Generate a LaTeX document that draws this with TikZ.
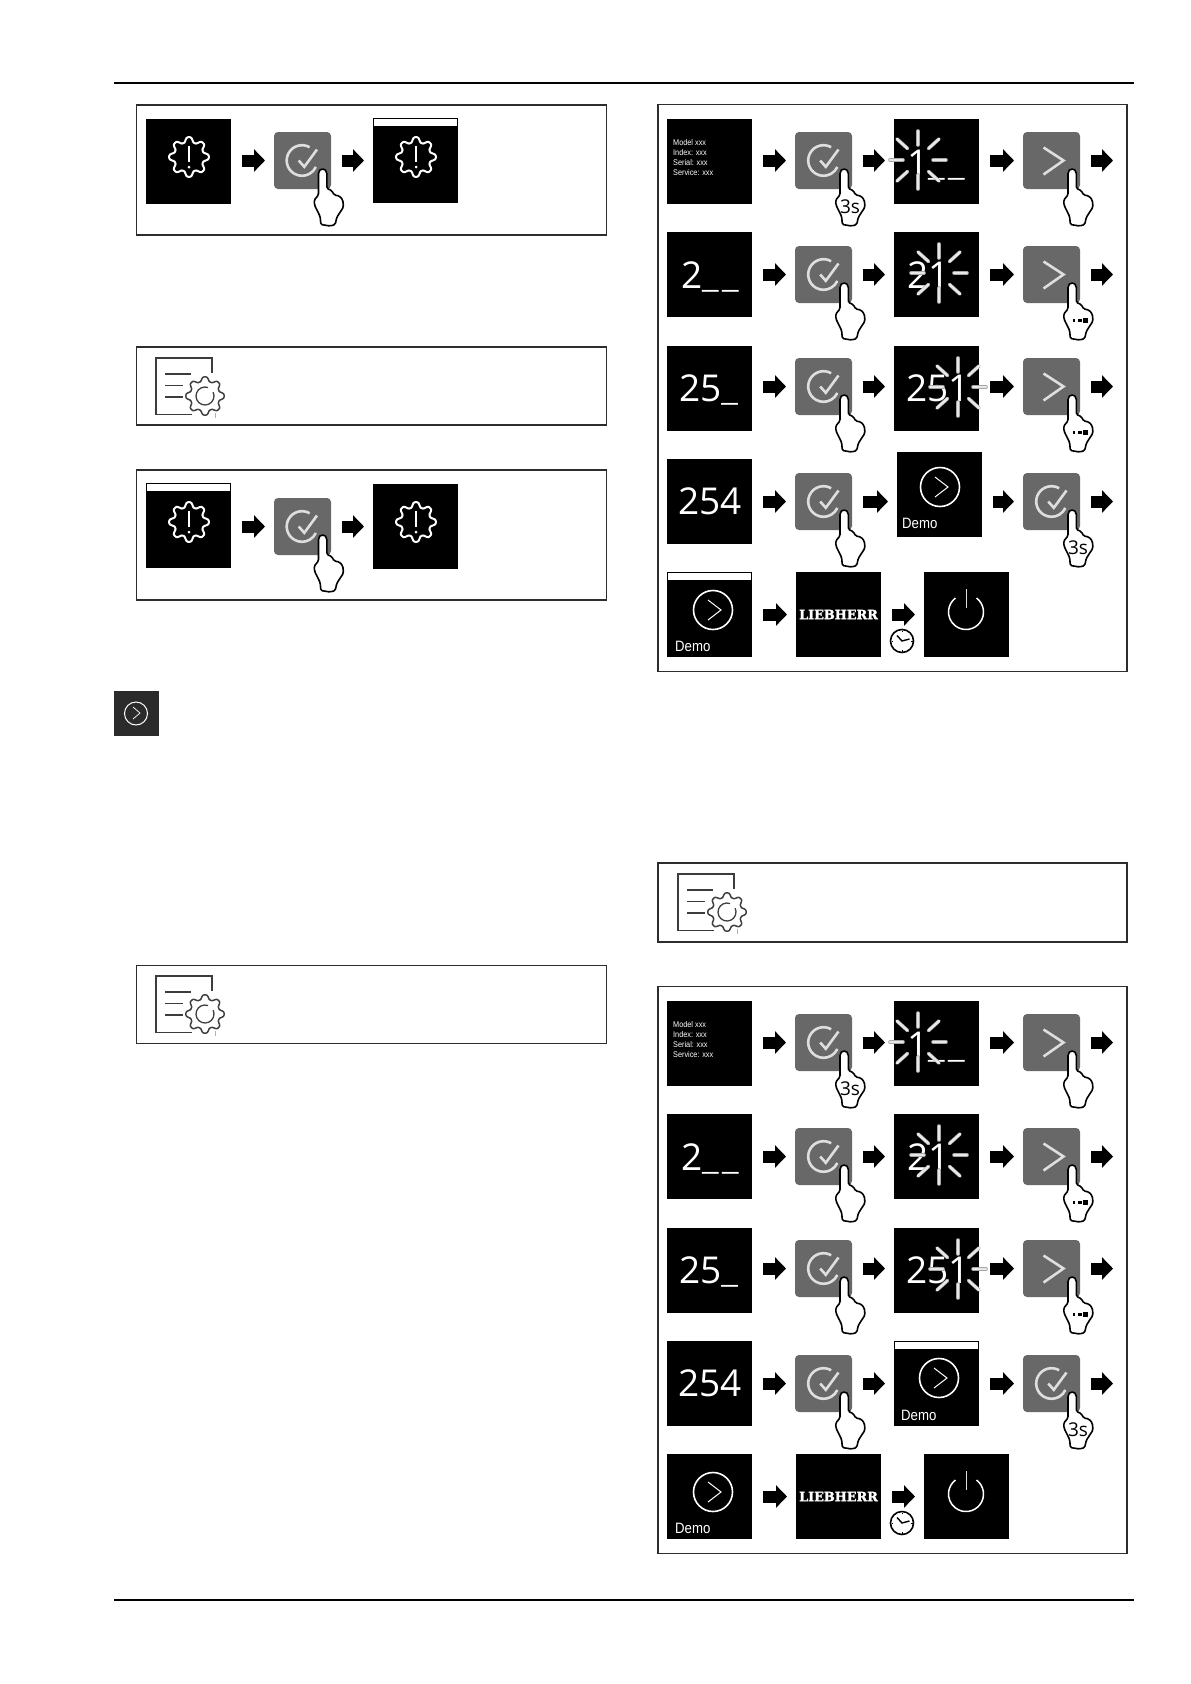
\documentclass[tikz,border=0pt]{standalone}
\usepackage{fontspec}
\setmainfont{Liberation Sans}
\newfontfamily\narrowfont[FakeStretch=0.88]{Liberation Sans}
\newfontfamily\digitfont{Open Sans}
\newfontfamily\logofont[BoldFeatures={FakeBold=2}]{DejaVu Serif}
\usetikzlibrary{arrows.meta}
\definecolor{keycolor}{RGB}{104, 104, 104}
\definecolor{iconcolor}{RGB}{222, 222, 222}
\definecolor{framecolor}{RGB}{45, 45, 45}
\definecolor{doccolor}{RGB}{60, 60, 60}
\newcommand{\uscore}{\raisebox{2pt}{\normalfont\fontsize{29}{29}\selectfont\_}\kern4pt}

\tikzset{
    framebox/.style={
        draw=framecolor,
        line width=1.1pt,
        anchor=north west,
        inner sep=0pt,
        outer sep=0pt
    },
    panel/.style={
        fill=black,
        minimum size=85pt,
        inner sep=0pt,
        outer sep=0pt,
        anchor=north west
    },
    topbar/.style={
        fill=white,
        minimum width=82.6pt,
        minimum height=7pt,
        inner sep=0pt,
        outer sep=0pt,
        anchor=north,
        yshift=-1.2pt
    },
    keybox/.style={
        fill=keycolor,
        rounded corners=4pt,
        minimum size=57pt,
        inner sep=0pt,
        outer sep=0pt,
        anchor=north west
    },
    flowarrow/.style={
        -{Triangle[length=11pt,width=22pt]},
        line width=12pt,
        shorten <=11pt,
        shorten >=9pt,
        color=black
    },
    digits/.style={
        text=white,
        font=\digitfont\fontsize{37}{37}\selectfont,
        inner sep=0pt,
        anchor=base west
    },
    infotext/.style={
        text=white,
        align=left,
        font=\narrowfont\fontsize{8.3}{10.2}\selectfont,
        inner sep=0pt,
        anchor=north west
    },
    demotext/.style={
        text=white,
        font=\narrowfont\fontsize{15}{15}\selectfont,
        inner sep=0pt,
        anchor=base west
    },
    logotext/.style={
        text=white,
        font=\logofont\bfseries\fontsize{12.8}{12.8}\selectfont,
        inner sep=0pt
    },
    holdtext/.style={
        text=black,
        font=\digitfont\fontsize{19}{19}\selectfont,
        inner sep=0pt
    },
    handline/.style={
        draw=black,
        fill=white,
        line width=1.6pt,
        line join=round
    },
    rayline/.style={
        draw=gray!70,
        line width=0.6pt,
        double=iconcolor!70,
        double distance=2.4pt,
        line cap=round
    },
    pics/presshand/.style={code={
        \path[handline, rounded corners=1.5pt] (-4,6) .. controls (-4,-1.5) and (4.3,-1.5) .. (4.3,6)
            -- (4.3,19.3) -- (9.3,21.7) -- (11.7,26) -- (17,27) -- (20.3,31) -- (21,38)
            -- (14.3,48.3) -- (12.7,55.5) -- (7.7,57) -- (-1.7,55.5) -- (-2.3,47.7)
            -- (-8,36) -- (-8.3,31) -- (-4,26) -- cycle;
    }},
    pics/checkicon/.style={code={
        \draw[iconcolor, line width=2.6pt] (0,0) ++(-60:15.3) arc[start angle=-60, end angle=-335, radius=15.3];
        \draw[iconcolor, line width=2.6pt] (-3.3,0) -- (2.3,6.3) -- (15,-11);
    }},
    pics/nexticon/.style={code={
        \draw[iconcolor, line width=2.6pt] (-8,-13) -- (12,0) -- (-8,14);
    }},
    pics/checkpress/.style={code={
        \pic at (0,0) {checkicon};
        \pic at (20.5,8.5) {presshand};
    }},
    pics/checkhold/.style={code={
        \pic at (0,0) {checkicon};
        \pic at (20.5,8.5) {presshand};
        \node[holdtext] (-hold) at (26.5,46.5) {3s};
    }},
    pics/nextpress/.style={code={
        \pic at (0,0) {nexticon};
        \pic at (20.5,8.5) {presshand};
    }},
    pics/nextrepeat/.style={code={
        \pic at (0,0) {nexticon};
        \pic at (20.5,8.5) {presshand};
        \fill[black] (21,44.5) rectangle (23.7,47);
        \fill[black] (26.5,44) rectangle (30,47.5);
        \fill[black] (31,43) rectangle (36.5,48);
    }},
    pics/alertgear/.style={code={
        \draw[white, line width=2pt] plot[domain=0:360, samples=145]
            ({(17.4+2.4*cos(8*\x)*(1.5-0.5*cos(8*\x)*cos(8*\x)))*cos(\x)},
             {(17.4+2.4*cos(8*\x)*(1.5-0.5*cos(8*\x)*cos(8*\x)))*sin(\x)}) -- cycle;
        \draw[white, line width=2.2pt] (0,-11) -- (0,5);
        \fill[white] (0,10) circle (1.5);
    }},
    pics/nextring/.style={code={
        \draw[white, line width=1.6pt] (0,0) circle (19.5);
        \draw[white, line width=1pt] (-5,-10) -- (8,0) -- (-5,10);
    }},
    pics/blinkrays/.style={code={
        \draw[rayline] (0,-29) -- (0,-15);
        \draw[rayline] (0,15) -- (0,29);
        \draw[rayline] (-28,0) -- (-15,0);
        \draw[rayline] (15,0) -- (28,0);
        \draw[rayline] (-21,-21) -- (-10.5,-11.5);
        \draw[rayline] (21,-21) -- (10.5,-11.5);
        \draw[rayline] (-21,21) -- (-10.5,11.5);
        \draw[rayline] (21,21) -- (10.5,11.5);
    }},
    pics/powericon/.style={code={
        \draw[white, line width=1.5pt] (-53:17.5) arc[start angle=-53, end angle=233, radius=17.5];
        \draw[iconcolor, line width=1pt] (0,-23) -- (0,-4);
    }},
    pics/timer/.style={code={
        \draw[black, fill=white, line width=1.6pt] (0,0) circle (11.5);
        \draw[black, line width=1.4pt] (-5,-5.5) -- (0,0) -- (7.5,-2);
        \draw[black, line width=1pt] (0,-10.5) -- (0,-9);
        \draw[black, line width=1pt] (0,10.5) -- (0,9);
        \draw[black, line width=1pt] (-10.5,0) -- (-9,0);
        \draw[black, line width=1pt] (10.5,0) -- (9,0);
    }},
    pics/settingsdoc/.style={code={
        \draw[doccolor, line width=1.4pt] (36,56.5) -- (0,56.5) -- (0,0) -- (56,0) -- (56,15);
        \draw[doccolor, line width=1.3pt] (9,16) -- (35,16);
        \draw[doccolor, line width=1.3pt] (9,27.5) -- (27,27.5);
        \draw[doccolor, line width=1.3pt] (9,39) -- (27,39);
        \draw[black!75, line width=1.5pt] plot[domain=0:360, samples=145]
            ({(17+2.1*cos(8*\x)*(1.5-0.5*cos(8*\x)*cos(8*\x)))*cos(\x)+49},
             {(17+2.1*cos(8*\x)*(1.5-0.5*cos(8*\x)*cos(8*\x)))*sin(\x)+38}) -- cycle;
        \draw[black!75, line width=1.3pt] (49,38) ++(-70:9) arc[start angle=-70, end angle=-385, radius=9];
        \draw[gray!60, line width=0.8pt] (59,55) -- (59,60);
    }}
}

\begin{document}
\begin{tikzpicture}[x=1pt, y=-1pt]
\useasboundingbox (0,0) rectangle (1191,1684);

% Page rules
\draw[black, line width=2.6pt] (114,83) -- (1134,83);
\draw[black, line width=2.6pt] (114,1600) -- (1134,1600);

% ==================== BOX A ====================
\node[framebox, minimum width=470pt, minimum height=130pt] (boxa) at (136.5,105) {};
\node[panel] (aalert) at (146,119) {};
\pic at (189,157) {alertgear};
\node[keybox] (akey) at (274,132) {};
\pic at ([xshift=-0.5pt]akey.center) {checkpress};
\node[panel] (aresult) at (373,118) {};
\node[topbar] (aresultbar) at (aresult.north) {};
\pic at (416,157) {alertgear};
\draw[flowarrow] (akey.west -| aalert.east) -- (akey.west);
\draw[flowarrow] (akey.east) -- (akey.east -| aresult.west);

% ==================== BOX B ====================
\node[framebox, minimum width=470pt, minimum height=78pt] (boxb) at (136.5,347) {};
\pic at (156,358) {settingsdoc};

% ==================== BOX C ====================
\node[framebox, minimum width=470pt, minimum height=130pt] (boxc) at (136.5,470) {};
\node[panel] (calert) at (146,483) {};
\node[topbar] (calertbar) at (calert.north) {};
\pic at (189,522) {alertgear};
\node[keybox] (ckey) at (274,498) {};
\pic at ([xshift=-0.5pt]ckey.center) {checkpress};
\node[panel] (cresult) at (373,484) {};
\pic at (416,522) {alertgear};
\draw[flowarrow] (ckey.west -| calert.east) -- (ckey.west);
\draw[flowarrow] (ckey.east) -- (ckey.east -| cresult.west);

% ==================== MARGIN ICON ====================
\node[fill=black!83, minimum size=45pt, inner sep=0pt, outer sep=0pt, anchor=north west] (marginkey) at (113.5,691) {};
\draw[white, line width=1pt] (marginkey.center) circle (11.5);
\draw[white, line width=0.7pt] (133,707) -- (140,713) -- (133,719);

% ==================== BOX D ====================
\node[framebox, minimum width=469pt, minimum height=79pt] (boxd) at (658,863) {};
\pic at (678,874) {settingsdoc};

% ==================== BOX E ====================
\node[framebox, minimum width=470pt, minimum height=78pt] (boxe) at (136.5,965.5) {};
\pic at (156,976) {settingsdoc};

% ==================== UPPER FLOW ====================
\node[framebox, minimum width=469pt, minimum height=567pt] (boxup) at (658,104.5) {};

% row 1
\node[panel] (upinfo) at (667,119) {};
\node[infotext] (upinfotext) at (673,139) {Model xxx\\Index: xxx\\Serial: xxx\\Service: xxx};
\node[keybox] (upkeya) at (795,132) {};
\pic at (upkeya.center) {checkhold};
\node[panel] (upblinka) at (894,119) {};
\node[digits] (upblinkatext) at (907,176) {1\uscore\uscore};
\pic at (918,160) {blinkrays};
\node[keybox] (upkeyb) at (1023,132) {};
\pic at (upkeyb.center) {nextpress};
\coordinate (upenda) at (1122,160.5);
\draw[flowarrow] (upkeya.west -| upinfo.east) -- (upkeya.west);
\draw[flowarrow] (upkeya.east) -- (upkeya.east -| upblinka.west);
\draw[flowarrow] (upkeyb.west -| upblinka.east) -- (upkeyb.west);
\draw[flowarrow] (upkeyb.east) -- (upenda);

% row 2
\node[panel] (uptypeb) at (667,232) {};
\node[digits] (uptypebtext) at (681,288) {2\uscore\uscore};
\node[keybox] (upkeyc) at (795,246) {};
\pic at (upkeyc.center) {checkpress};
\node[panel] (upblinkb) at (894,232) {};
\node[digits] (upblinkbtext) at (907,288) {21};
\pic at (939,273) {blinkrays};
\node[keybox] (upkeyd) at (1023,246) {};
\pic at (upkeyd.center) {nextrepeat};
\coordinate (upendb) at (1122,274.5);
\draw[flowarrow] (upkeyc.west -| uptypeb.east) -- (upkeyc.west);
\draw[flowarrow] (upkeyc.east) -- (upkeyc.east -| upblinkb.west);
\draw[flowarrow] (upkeyd.west -| upblinkb.east) -- (upkeyd.west);
\draw[flowarrow] (upkeyd.east) -- (upendb);

% row 3
\node[panel] (uptypec) at (667,346) {};
\node[digits] (uptypectext) at (679,401) {25\uscore};
\node[keybox] (upkeye) at (795,358) {};
\pic at (upkeye.center) {checkpress};
\node[panel] (upblinkc) at (894,346) {};
\node[digits] (upblinkctext) at (906,401) {251};
\pic at (958,387) {blinkrays};
\node[keybox] (upkeyf) at (1023,358) {};
\pic at (upkeyf.center) {nextrepeat};
\coordinate (upendc) at (1122,386.5);
\draw[flowarrow] (upkeye.west -| uptypec.east) -- (upkeye.west);
\draw[flowarrow] (upkeye.east) -- (upkeye.east -| upblinkc.west);
\draw[flowarrow] (upkeyf.west -| upblinkc.east) -- (upkeyf.west);
\draw[flowarrow] (upkeyf.east) -- (upendc);

% row 4
\node[panel] (uptyped) at (667,459) {};
\node[digits] (uptypedtext) at (678,514) {254};
\node[keybox] (upkeyg) at (795,473) {};
\pic at (upkeyg.center) {checkpress};
\node[panel] (updemo) at (897,452) {};
\pic at (940,487) {nextring};
\node[demotext] (updemotext) at (902,528) {Demo};
\node[keybox] (upkeyh) at (1023,473) {};
\pic at (upkeyh.center) {checkhold};
\coordinate (upendd) at (1122,501.5);
\draw[flowarrow] (upkeyg.west -| uptyped.east) -- (upkeyg.west);
\draw[flowarrow] (upkeyg.east) -- (upkeyg.east -| updemo.west);
\draw[flowarrow] (upkeyh.west -| updemo.east) -- (upkeyh.west);
\draw[flowarrow] (upkeyh.east) -- (upendd);

% row 5
\node[panel] (upstart) at (667,572) {};
\node[topbar] (upstartbar) at (upstart.north) {};
\pic at (713,610) {nextring};
\node[demotext] (upstarttext) at (675,651) {Demo};
\node[panel] (uplogo) at (796,572) {};
\node[logotext] (uplogotext) at (uplogo.center) {LIEBHERR};
\node[panel] (upoff) at (924,572) {};
\pic at (966,612) {powericon};
\pic at (902,641) {timer};
\draw[flowarrow] (upstart.east) -- (upstart.east -| uplogo.west);
\draw[flowarrow] (uplogo.east) -- (uplogo.east -| upoff.west);

% ==================== LOWER FLOW ====================
\begin{scope}[shift={(0,882)}]
\node[framebox, minimum width=469pt, minimum height=567pt] (boxlow) at (658,104.5) {};

% row 1
\node[panel] (lowinfo) at (667,119) {};
\node[infotext] (lowinfotext) at (673,139) {Model xxx\\Index: xxx\\Serial: xxx\\Service: xxx};
\node[keybox] (lowkeya) at (795,132) {};
\pic at (lowkeya.center) {checkhold};
\node[panel] (lowblinka) at (894,119) {};
\node[digits] (lowblinkatext) at (907,176) {1\uscore\uscore};
\pic at (918,160) {blinkrays};
\node[keybox] (lowkeyb) at (1023,132) {};
\pic at (lowkeyb.center) {nextpress};
\coordinate (lowenda) at (1122,160.5);
\draw[flowarrow] (lowkeya.west -| lowinfo.east) -- (lowkeya.west);
\draw[flowarrow] (lowkeya.east) -- (lowkeya.east -| lowblinka.west);
\draw[flowarrow] (lowkeyb.west -| lowblinka.east) -- (lowkeyb.west);
\draw[flowarrow] (lowkeyb.east) -- (lowenda);

% row 2
\node[panel] (lowtypeb) at (667,232) {};
\node[digits] (lowtypebtext) at (681,288) {2\uscore\uscore};
\node[keybox] (lowkeyc) at (795,246) {};
\pic at (lowkeyc.center) {checkpress};
\node[panel] (lowblinkb) at (894,232) {};
\node[digits] (lowblinkbtext) at (907,288) {21};
\pic at (939,273) {blinkrays};
\node[keybox] (lowkeyd) at (1023,246) {};
\pic at (lowkeyd.center) {nextrepeat};
\coordinate (lowendb) at (1122,274.5);
\draw[flowarrow] (lowkeyc.west -| lowtypeb.east) -- (lowkeyc.west);
\draw[flowarrow] (lowkeyc.east) -- (lowkeyc.east -| lowblinkb.west);
\draw[flowarrow] (lowkeyd.west -| lowblinkb.east) -- (lowkeyd.west);
\draw[flowarrow] (lowkeyd.east) -- (lowendb);

% row 3
\node[panel] (lowtypec) at (667,346) {};
\node[digits] (lowtypectext) at (679,401) {25\uscore};
\node[keybox] (lowkeye) at (795,358) {};
\pic at (lowkeye.center) {checkpress};
\node[panel] (lowblinkc) at (894,346) {};
\node[digits] (lowblinkctext) at (906,401) {251};
\pic at (958,387) {blinkrays};
\node[keybox] (lowkeyf) at (1023,358) {};
\pic at (lowkeyf.center) {nextrepeat};
\coordinate (lowendc) at (1122,386.5);
\draw[flowarrow] (lowkeye.west -| lowtypec.east) -- (lowkeye.west);
\draw[flowarrow] (lowkeye.east) -- (lowkeye.east -| lowblinkc.west);
\draw[flowarrow] (lowkeyf.west -| lowblinkc.east) -- (lowkeyf.west);
\draw[flowarrow] (lowkeyf.east) -- (lowendc);

% row 4
\node[panel] (lowtyped) at (667,459) {};
\node[digits] (lowtypedtext) at (678,514) {254};
\node[keybox] (lowkeyg) at (795,473) {};
\pic at (lowkeyg.center) {checkpress};
\node[panel] (lowdemo) at (894,459) {};
\node[topbar] (lowdemobar) at (lowdemo.north) {};
\pic at (939,496) {nextring};
\node[demotext] (lowdemotext) at (901,538) {Demo};
\node[keybox] (lowkeyh) at (1023,473) {};
\pic at (lowkeyh.center) {checkhold};
\coordinate (lowendd) at (1122,501.5);
\draw[flowarrow] (lowkeyg.west -| lowtyped.east) -- (lowkeyg.west);
\draw[flowarrow] (lowkeyg.east) -- (lowkeyg.east -| lowdemo.west);
\draw[flowarrow] (lowkeyh.west -| lowdemo.east) -- (lowkeyh.west);
\draw[flowarrow] (lowkeyh.east) -- (lowendd);

% row 5
\node[panel] (lowstart) at (667,572) {};
\pic at (713,610) {nextring};
\node[demotext] (lowstarttext) at (675,651) {Demo};
\node[panel] (lowlogo) at (796,572) {};
\node[logotext] (lowlogotext) at (lowlogo.center) {LIEBHERR};
\node[panel] (lowoff) at (924,572) {};
\pic at (966,612) {powericon};
\pic at (902,641) {timer};
\draw[flowarrow] (lowstart.east) -- (lowstart.east -| lowlogo.west);
\draw[flowarrow] (lowlogo.east) -- (lowlogo.east -| lowoff.west);
\end{scope}

\end{tikzpicture}
\end{document}
